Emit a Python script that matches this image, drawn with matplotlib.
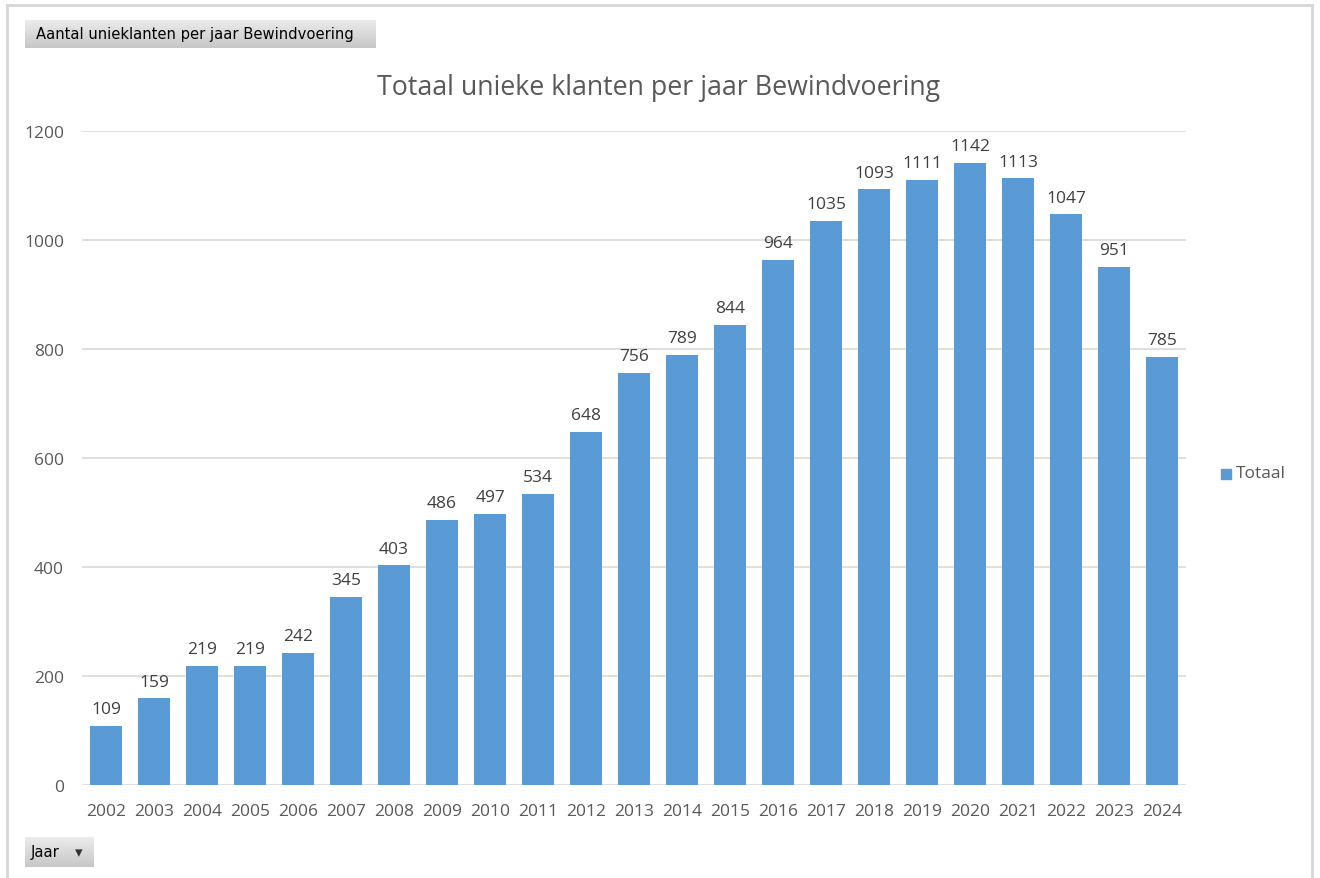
import numpy as np
import matplotlib
matplotlib.use("Agg")
import matplotlib.pyplot as plt
from matplotlib.patches import Rectangle

# data
jaren = [str(j) for j in range(2002, 2025)]
totaal = [109, 159, 219, 219, 242, 345, 403, 486, 497, 534, 648, 756,
          789, 844, 964, 1035, 1093, 1111, 1142, 1113, 1047, 951, 785]
yticks = [0, 200, 400, 600, 800, 1000, 1200]

W, H = 1320, 879
BLUE = "#5B9BD5"
GREY = "#595959"

plt.rcParams['font.family'] = ['Open Sans', 'DejaVu Sans']

fig = plt.figure(figsize=(W / 100, H / 100), dpi=100)

def fx(px):
    return px / W

def fy(py):
    return 1 - py / H

ax = fig.add_axes([fx(82), fy(786), fx(1186) - fx(82), fy(132) - fy(786)])
x = np.arange(len(jaren))
bars = ax.bar(x, totaal, width=0.67, color=BLUE, zorder=3, label="Totaal")
for xi, v in zip(x, totaal):
    ax.text(xi, v + 16, str(v), ha="center", va="bottom", fontsize=12.5, color="#404040")

ax.set_xlim(-0.5, len(jaren) - 0.5)
ax.set_ylim(0, 1200)
ax.set_yticks(yticks)
ax.set_xticks(x)
ax.set_xticklabels(jaren)
ax.grid(axis="y", color="#d9d9d9", linewidth=1.2, zorder=0)
for s in ax.spines.values():
    s.set_visible(False)
ax.tick_params(axis="both", length=0, labelsize=12.5, labelcolor=GREY)
ax.tick_params(axis="y", pad=13)
ax.tick_params(axis="x", pad=13)

fig.text(fx(659), fy(88), "Totaal unieke klanten per jaar Bewindvoering",
         ha="center", va="center", fontsize=19.3, color=GREY)

# legend
fig.patches.append(Rectangle((fx(1221), fy(480)), 10 / W, 10 / H, transform=fig.transFigure,
                             color=BLUE, figure=fig))
fig.text(fx(1236), fy(474), "Totaal", ha="left", va="center", fontsize=12.5, color=GREY)

# outer border
fig.patches.append(Rectangle((fx(7), fy(890)), (1312 - 7) / W, (890 - 6) / H,
                             transform=fig.transFigure, fill=False,
                             edgecolor="#d6d6d6", linewidth=2, figure=fig))

# field buttons
grad = np.linspace(0.92, 0.78, 50).reshape(-1, 1)

def button(x0, y0, x1, y1, label, arrow=False):
    bax = fig.add_axes([fx(x0), fy(y1), fx(x1) - fx(x0), fy(y0) - fy(y1)])
    bax.imshow(grad, cmap="gray", vmin=0, vmax=1, aspect="auto", extent=[0, 1, 0, 1])
    bax.set_axis_off()
    bax.text(0.03 if not arrow else 0.08, 0.5, label, ha="left", va="center",
             fontsize=10.6, color="black", family=['DejaVu Sans'], transform=bax.transAxes)
    if arrow:
        bax.text(0.78, 0.48, "▾", ha="center", va="center", fontsize=11,
                 color="#333333", transform=bax.transAxes)

button(25, 21, 375, 49, "Aantal unieklanten per jaar Bewindvoering")
button(25, 838, 94, 868, "Jaar", arrow=True)

fig.savefig("out.png", dpi=100)
